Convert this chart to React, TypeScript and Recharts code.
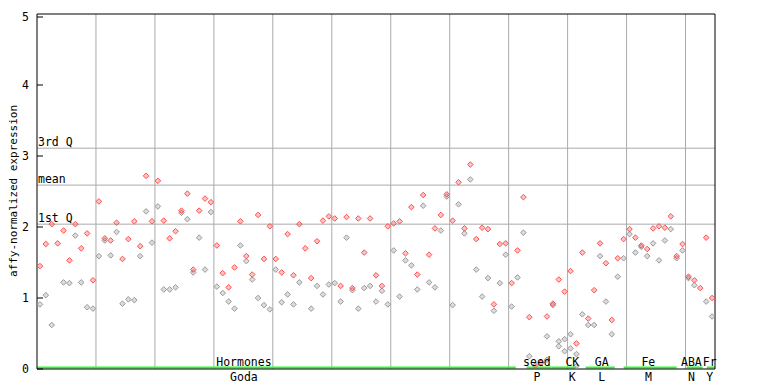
import { ScatterChart, Scatter, XAxis, YAxis, ReferenceLine } from "recharts";

const rep1: number[] = [
  1.45, 1.76, 2.04, 1.77, 1.95, 1.53, 2.04, 1.7, 1.91, 1.25,
  2.36, 1.84, 1.81, 2.06, 1.55, 1.83, 2.08, 1.73, 2.72, 2.08,
  2.65, 2.09, 1.84, 1.94, 2.23, 2.47, 1.4, 2.23, 2.4, 2.35,
  1.74, 1.35, 1.15, 1.43, 2.08, 1.59, 1.33, 2.17, 1.55, 2.01,
  1.55, 1.36, 1.9, 1.32, 2.04, 1.7, 1.28, 1.8, 2.09, 2.15,
  2.12, 1.17, 2.14, 1.14, 2.12, 1.64, 2.12, 1.32, 1.17, 2.01,
  2.05, 2.08, 1.63, 2.28, 1.33, 2.45, 1.61, 1.98, 2.17, 2.46,
  2.09, 2.63, 1.98, 2.88, 1.83, 1.99, 1.97, 0.91, 1.76, 1.77,
  1.21, 1.67, 2.42, 0.73, 0.05, 0.09, 0.74, 0.92, 1.26, 1.09,
  1.38, 0.36, 1.64, 0.71, 1.11, 1.77, 1.49, 0.69, 1.56, 1.83,
  1.97, 1.85, 1.74, 1.69, 1.98, 2.01, 1.99, 2.15, 1.59, 1.76,
  1.3, 1.25, 1.14, 1.85, 1.0,
];
const rep2: (number | null)[] = [
  0.91, 1.04, 0.62, null, 1.22, 1.21, 1.88, 1.22, 0.87, 0.85,
  1.59, 1.81, 1.6, 1.93, 0.92, 0.98, 0.97, 1.59, 2.22, 1.78,
  2.29, 1.12, 1.12, 1.15, 2.2, 2.11, 1.36, 1.85, 1.4, 2.21,
  1.16, 1.07, 0.95, 0.85, 1.74, 1.52, 1.26, 1.0, 0.9, 0.84,
  1.4, 0.94, 1.05, 0.91, 1.22, null, 0.85, 1.17, 1.05, 1.19,
  1.21, 0.95, 1.85, 1.11, 0.85, 1.14, 1.17, 0.95, 1.1, 0.91,
  1.67, 1.02, 1.53, 1.46, 1.12, 2.3, 1.22, 1.15, 1.95, 2.43,
  0.9, 2.32, 1.91, 2.67, 1.4, 1.02, 1.28, 0.82, 1.21, 1.61,
  0.88, 1.29, 1.92, 0.18, null, null, 0.46, 0.9, 0.39, 0.42,
  0.49, 0.21, 0.77, 0.62, 0.62, 1.59, 0.95, 0.49, 1.3, 1.56,
  1.9, 1.64, 1.72, 1.59, 1.77, 1.53, 1.81, 1.97, 1.56, 1.67,
  1.28, 1.18, null, 0.95, 0.74,
];
const extraSlots = [86, 88, 89, 90, 91];
const extraValues = [0.13, 0.32, 0.25, 0.29, 0.04];

const gridSlots = [10, 20, 30, 40, 50, 60, 70, 80, 90, 100, 110];
const yTicks = [0, 1, 2, 3, 4, 5];

const quartiles = [
  { label: "3rd Q", value: 3.11 },
  { label: "mean", value: 2.59 },
  { label: "1st Q", value: 2.04 },
];

const groupTop = ["Hormones", "seed", "CK", "GA", "Fe", "ABA", "Fr"];
const groupBottom = ["Goda", "P", "K", "L", "M", "N", "Y"];
const groupCenter = [35.1, 84.8, 90.8, 95.8, 103.7, 111.0, 114.1];
const groupStart = [0, 83.05, 87.3, 93.05, 99.5, 110.2, 113.6];
const groupEnd = [81.2, 87.3, 91.5, 98.0, 108.5, 112.9, 115];

const FONT = "'DejaVu Sans Mono', monospace";
const PLOT_LEFT = 29;
const PLOT_RIGHT = 707;
const PLOT_BOTTOM = 361;
const RED = "#ff5050";
const GRAY = "#9a9a9a";
const GRID = "#aaaaaa";
const GREEN = "#22ff22";

const toPoints = (vals: (number | null)[]) =>
  vals.flatMap((v, i) => (v == null ? [] : [{ x: i + 0.5, y: v }]));

const data1 = toPoints(rep1);
const data2 = toPoints(rep2);
const data3 = extraSlots.map((s, i) => ({ x: s + 0.5, y: extraValues[i] }));

const diamond = (color: string) => (props: any) => {
  const { cx, cy } = props;
  if (cx == null || cy == null) return null;
  const r = 2.8;
  return (
    <polygon
      points={`${cx},${cy - r} ${cx + r},${cy} ${cx},${cy + r} ${cx - r},${cy}`}
      fill={color}
      fillOpacity={0.35}
      stroke={color}
      strokeWidth={1}
    />
  );
};

function LeftTick({ y, payload }: any) {
  return (
    <g>
      <line x1={PLOT_LEFT} x2={PLOT_LEFT + 6} y1={y} y2={y} stroke="#000" />
      <text x={PLOT_LEFT - 8} y={y} textAnchor="end" dominantBaseline="central" fontFamily={FONT} fontSize={11.5} fill="#000">
        {payload.value}
      </text>
    </g>
  );
}

function RightTick({ y }: any) {
  return <line x1={PLOT_RIGHT - 6} x2={PLOT_RIGHT} y1={y} y2={y} stroke="#000" />;
}

function GroupTick({ x, payload }: any) {
  const i = groupCenter.indexOf(payload.value);
  return (
    <g fontFamily={FONT} fontSize={11.5} fill="#000">
      <text x={x} y={PLOT_BOTTOM - 7} textAnchor="middle" dominantBaseline="central">
        {groupTop[i]}
      </text>
      <text x={x} y={PLOT_BOTTOM + 8} textAnchor="middle" dominantBaseline="central">
        {groupBottom[i]}
      </text>
    </g>
  );
}

function QLabel({ viewBox, text }: any) {
  if (!viewBox) return null;
  return (
    <text x={viewBox.x + 1} y={viewBox.y - 6} dominantBaseline="central" fontFamily={FONT} fontSize={11.5} fill="#000">
      {text}
    </text>
  );
}

function YLabel() {
  return (
    <text
      x={5.5}
      y={183}
      transform="rotate(-90 5.5 183)"
      textAnchor="middle"
      dominantBaseline="central"
      fontFamily={FONT}
      fontSize={11}
      fill="#000"
    >
      affy-normalized expression
    </text>
  );
}

export default function App() {
  return (
    <ScatterChart width={752} height={376} margin={{ top: 6, right: 0, bottom: 0, left: 0 }}>
      <XAxis
        type="number"
        dataKey="x"
        domain={[0, 115]}
        ticks={groupCenter}
        interval={0}
        height={15}
        tickLine={false}
        axisLine={{ stroke: "#000" }}
        tick={<GroupTick />}
        allowDataOverflow
      />
      <YAxis
        type="number"
        dataKey="y"
        domain={[0, 5]}
        ticks={yTicks}
        width={29}
        tickLine={false}
        axisLine={{ stroke: "#000" }}
        tick={<LeftTick />}
        label={<YLabel />}
        allowDataOverflow
      />
      <YAxis
        yAxisId="right"
        orientation="right"
        type="number"
        domain={[0, 5]}
        ticks={yTicks}
        width={45}
        tickLine={false}
        axisLine={{ stroke: "#000" }}
        tick={<RightTick />}
      />
      {gridSlots.map((s) => (
        <ReferenceLine key={s} x={s} stroke={GRID} strokeWidth={1} />
      ))}
      {quartiles.map((q) => (
        <ReferenceLine key={q.label} y={q.value} stroke={GRID} strokeWidth={1} label={<QLabel text={q.label} />} />
      ))}
      <ReferenceLine y={5} stroke="#000" />
      {groupStart.map((s, i) => (
        <ReferenceLine
          key={"g" + i}
          segment={[
            { x: s, y: 0.0211 },
            { x: groupEnd[i], y: 0.0211 },
          ]}
          stroke={GREEN}
          strokeWidth={2}
        />
      ))}
      <Scatter data={data2} shape={diamond(GRAY)} isAnimationActive={false} />
      <Scatter data={data1} shape={diamond(RED)} isAnimationActive={false} />
      <Scatter data={data3} shape={diamond(GRAY)} isAnimationActive={false} />
    </ScatterChart>
  );
}
